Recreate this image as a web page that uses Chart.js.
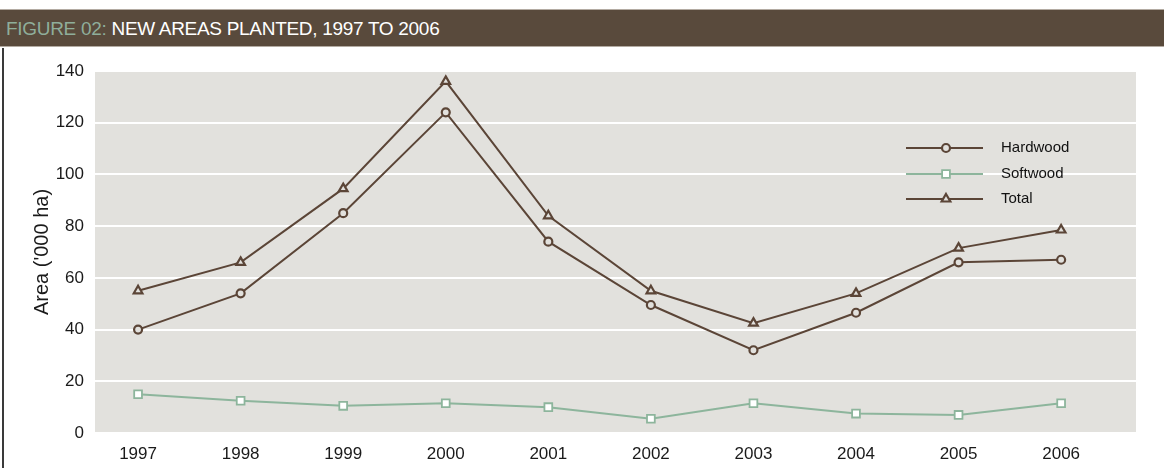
<!DOCTYPE html>
<html>
<head>
<meta charset="utf-8">
<script src="https://cdn.jsdelivr.net/npm/chart.js@4/dist/chart.umd.min.js"></script>
<style>
  body { margin: 0; background: #fff; width: 1164px; height: 468px; overflow: hidden; position: relative; font-family: 'Liberation Sans', Arial, sans-serif; }
  #header { position: absolute; left: 0; top: 9px; width: 1164px; height: 38px; background: #594a3c;
            border-top: 1px solid #b3aba2; border-bottom: 1px solid #b3aba2; color: #fff;
            font-size: 19px; line-height: 38px; padding-left: 6px; box-sizing: border-box; letter-spacing: -0.3px; }
  #header span { color: #8fae9b; }
  #frame { position: absolute; left: 2px; top: 48px; width: 2px; height: 420px; background: #3a3a3a; }
  #wrap { position: absolute; left: 0; top: 48px; width: 1164px; height: 420px; }
</style>
</head>
<body>
<div id="header"><span>FIGURE 02:</span> NEW AREAS PLANTED, 1997 TO 2006</div>
<div id="frame"></div>
<div id="wrap"><canvas id="chart"></canvas></div>
<script>
// データ
const years = [1997, 1998, 1999, 2000, 2001, 2002, 2003, 2004, 2005, 2006];
const hardwood = [40, 54, 85, 124, 74, 49.5, 32, 46.5, 66, 67];
const softwood = [15, 12.5, 10.5, 11.5, 10, 5.5, 11.5, 7.5, 7, 11.5];
const total = [55, 66, 94.5, 136, 84, 55, 42.5, 54, 71.5, 78.5];
const seriesNames = ["Hardwood", "Softwood", "Total"];
const yTicks = [0, 20, 40, 60, 80, 100, 120, 140];
const yTitle = "Area ('000 ha)";

const brown = "#5b4537";
const green = "#8db59c";
const plotBg = "#e2e1dd";
const font = "'Liberation Sans', Arial, sans-serif";

function toPoints(vals) {
  return years.map((yr, i) => ({ x: yr, y: vals[i] }));
}

// プロット背景
const plotBackground = {
  id: "plotBackground",
  beforeDraw(chart) {
    const { ctx, chartArea: a } = chart;
    ctx.save();
    ctx.fillStyle = plotBg;
    ctx.fillRect(a.left, a.top, a.right - a.left, a.bottom - a.top);
    ctx.restore();
  }
};

function marker(ctx, style, x, y, r) {
  ctx.beginPath();
  if (style === "circle") {
    ctx.arc(x, y, r, 0, Math.PI * 2);
  } else if (style === "rect") {
    const s = r * Math.SQRT1_2;
    ctx.rect(x - s, y - s, s * 2, s * 2);
  } else {
    ctx.moveTo(x, y - r);
    ctx.lineTo(x + r * 0.87, y + r * 0.5);
    ctx.lineTo(x - r * 0.87, y + r * 0.5);
    ctx.closePath();
  }
  ctx.fill();
  ctx.stroke();
}

// 凡例（線＋マーカー）
const lineLegend = {
  id: "lineLegend",
  afterDraw(chart) {
    const ctx = chart.ctx;
    const x0 = 906, x1 = 983, mx = 946, tx = 1001;
    const rows = [100, 126, 151];
    ctx.save();
    chart.data.datasets.forEach((ds, i) => {
      const y = rows[i];
      ctx.strokeStyle = ds.borderColor;
      ctx.lineWidth = ds.borderWidth;
      ctx.beginPath();
      ctx.moveTo(x0, y);
      ctx.lineTo(x1, y);
      ctx.stroke();
      ctx.fillStyle = ds.pointBackgroundColor;
      ctx.lineWidth = ds.pointBorderWidth;
      marker(ctx, ds.pointStyle, mx, y, ds.pointRadius);
      ctx.fillStyle = "#111";
      ctx.font = "15px " + font;
      ctx.textBaseline = "middle";
      ctx.fillText(ds.label, tx, y);
    });
    ctx.restore();
  }
};

new Chart(document.getElementById("chart"), {
  type: "line",
  data: {
    datasets: [
      { label: seriesNames[0], data: toPoints(hardwood), borderColor: brown, borderWidth: 2,
        pointStyle: "circle", pointRadius: 4, pointBorderWidth: 2.2, pointBorderColor: brown, pointBackgroundColor: plotBg },
      { label: seriesNames[1], data: toPoints(softwood), borderColor: green, borderWidth: 2,
        pointStyle: "rect", pointRadius: 5.5, pointBorderWidth: 1.8, pointBorderColor: green, pointBackgroundColor: "#fff" },
      { label: seriesNames[2], data: toPoints(total), borderColor: brown, borderWidth: 2,
        pointStyle: "triangle", pointRadius: 5, pointBorderWidth: 2.2, pointBorderColor: brown, pointBackgroundColor: plotBg }
    ]
  },
  options: {
    responsive: true,
    maintainAspectRatio: false,
    animation: false,
    layout: { padding: { top: 23, right: 28, left: 0, bottom: 0 } },
    plugins: { legend: { display: false }, tooltip: { enabled: false } },
    scales: {
      x: {
        type: "linear",
        min: 1996.58,
        max: 2006.73,
        afterBuildTicks: s => { s.ticks = years.map(v => ({ value: v })); },
        afterFit: s => { s.height = 35; },
        grid: { display: false, drawTicks: false },
        border: { display: false },
        ticks: { color: "#1a1a1a", padding: 11, font: { size: 17, family: font },
                 callback: v => String(v) }
      },
      y: {
        min: 0,
        max: 140,
        afterBuildTicks: s => { s.ticks = yTicks.map(v => ({ value: v })); },
        afterFit: s => { s.width = 95; },
        grid: { color: "#ffffff", lineWidth: 2, drawTicks: false },
        border: { display: false },
        ticks: { color: "#1a1a1a", padding: 11, font: { size: 17, family: font } },
        title: { display: true, text: yTitle, color: "#1a1a1a", padding: { top: 30, bottom: 0 },
                 font: { size: 20, family: font } }
      }
    }
  },
  plugins: [plotBackground, lineLegend]
});
</script>
</body>
</html>
